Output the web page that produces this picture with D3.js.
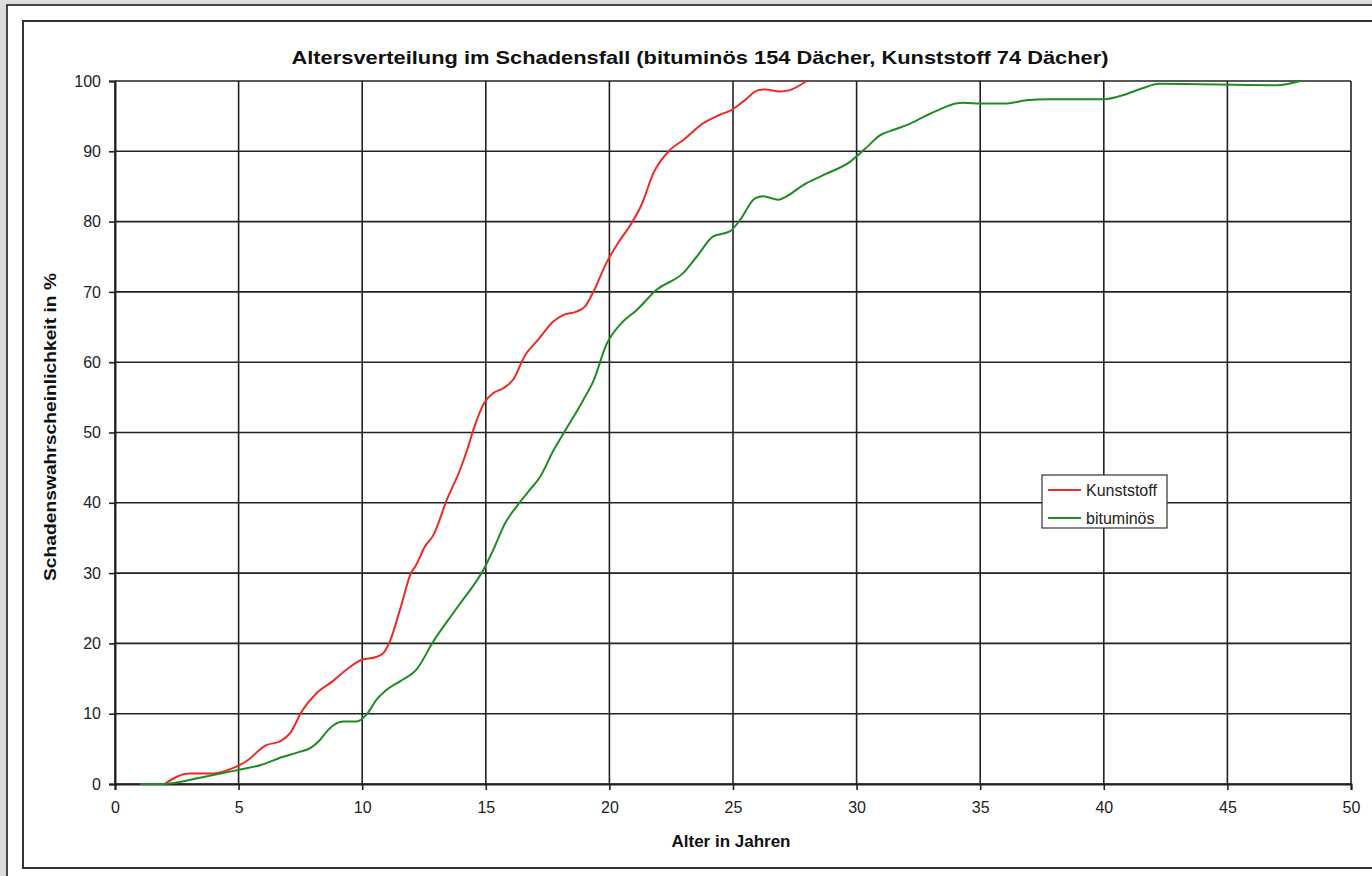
<!DOCTYPE html>
<html>
<head>
<meta charset="utf-8">
<script src="https://cdn.jsdelivr.net/npm/d3@7"></script>
<style>
  html, body { margin: 0; padding: 0; background: #dcdcdc; }
  svg { display: block; }
  text { font-family: "Liberation Sans", Arial, sans-serif; }
</style>
</head>
<body>
<svg id="chart" width="1372" height="876"></svg>
<script>
// ---- data ----
const title = "Altersverteilung im Schadensfall (bituminös 154 Dächer, Kunststoff 74 Dächer)";
const xTitle = "Alter in Jahren";
const yTitle = "Schadenswahrscheinlichkeit in %";
const seriesNames = ["Kunststoff", "bituminös"];
const xTicks = [0, 5, 10, 15, 20, 25, 30, 35, 40, 45, 50];
const yTicks = [0, 10, 20, 30, 40, 50, 60, 70, 80, 90, 100];

const kunststoffAge = [2.0, 3.0, 4.0, 4.8, 5.3, 6.1, 6.7, 7.1, 7.55, 8.15, 8.8, 9.45, 10.0, 10.5, 10.85, 11.12, 11.53, 12.0, 12.14, 12.54, 12.88, 13.42, 13.96, 14.29, 14.5, 14.97, 15.3, 15.71, 16.1, 16.59, 17.12, 17.73, 18.13, 18.67, 19.01, 19.35, 19.89, 20.36, 20.9, 21.3, 21.78, 22.45, 22.99, 23.8, 24.47, 24.95, 25.42, 26.02, 26.3, 26.9, 27.3, 27.97];
const kunststoffPct = [0, 1.5, 1.5, 2.3, 3.2, 5.5, 6.1, 7.3, 10.3, 12.9, 14.6, 16.5, 17.7, 18.0, 18.6, 20.3, 24.8, 30.2, 30.9, 33.8, 35.4, 40.4, 44.7, 48.0, 50.4, 54.4, 55.6, 56.3, 57.5, 61.0, 63.2, 65.8, 66.7, 67.2, 67.9, 70.0, 74.2, 77.0, 79.8, 82.4, 86.9, 90.2, 91.6, 94.0, 95.2, 95.9, 97.1, 98.7, 98.8, 98.5, 98.7, 100];

const bitumAge = [1.0, 2.0, 2.3, 3.44, 4.85, 5.9, 6.74, 7.4, 7.9, 8.3, 8.6, 8.85, 9.24, 9.78, 10.18, 10.58, 10.99, 11.53, 12.2, 12.88, 13.82, 14.97, 15.3, 15.78, 16.25, 16.72, 17.2, 17.73, 18.2, 18.94, 19.35, 19.89, 20.5, 21.1, 21.91, 22.99, 23.53, 24.2, 24.87, 25.28, 25.89, 26.22, 26.83, 27.17, 27.84, 28.65, 29.73, 30.45, 30.91, 31.53, 32.07, 32.77, 33.39, 34.01, 34.32, 35.02, 36.02, 36.95, 37.72, 40.0, 40.8, 41.5, 42.27, 47.0, 47.95];
const bitumPct = [0, 0, 0.1, 0.9, 1.9, 2.7, 3.8, 4.5, 5.1, 6.3, 7.6, 8.4, 8.9, 8.9, 9.9, 12.0, 13.4, 14.6, 16.3, 20.3, 25.0, 30.9, 33.3, 37.1, 39.5, 41.6, 43.7, 47.4, 50.2, 54.6, 57.3, 62.6, 65.6, 67.4, 70.3, 72.7, 75.0, 77.9, 78.6, 80.2, 83.3, 83.6, 83.1, 83.6, 85.2, 86.6, 88.5, 90.7, 92.2, 93.1, 93.8, 95.0, 96.0, 96.8, 96.9, 96.8, 96.8, 97.3, 97.4, 97.4, 98.0, 98.9, 99.6, 99.4, 100];

const seriesColors = ["#ee2a24", "#1f8c22"];

// ---- layout ----
const svg = d3.select("#chart");
const plot = { left: 115, right: 1351, top: 81, bottom: 784 };

// page + chart frame
svg.append("rect").attr("x", 7).attr("y", 5).attr("width", 1400).attr("height", 900)
  .attr("fill", "#fff").attr("stroke", "#111").attr("stroke-width", 1.5);
svg.append("rect").attr("x", 23).attr("y", 21).attr("width", 1400).attr("height", 847)
  .attr("fill", "#fff").attr("stroke", "#333").attr("stroke-width", 2);

const x = d3.scaleLinear().domain([0, 50]).range([plot.left, plot.right]);
const y = d3.scaleLinear().domain([0, 100]).range([plot.bottom, plot.top]);

// gridlines
const grid = svg.append("g").attr("stroke", "#222").attr("stroke-width", 1.6);
grid.selectAll("line.v").data(xTicks).join("line")
  .attr("x1", d => x(d)).attr("x2", d => x(d)).attr("y1", plot.top).attr("y2", plot.bottom);
grid.selectAll("line.h").data(yTicks).join("line")
  .attr("y1", d => y(d)).attr("y2", d => y(d)).attr("x1", plot.left).attr("x2", plot.right);

// axes
const xAxis = svg.append("g").attr("transform", `translate(0,${plot.bottom})`)
  .call(d3.axisBottom(x).tickValues(xTicks).tickSize(6).tickPadding(12));
const yAxis = svg.append("g").attr("transform", `translate(${plot.left},0)`)
  .call(d3.axisLeft(y).tickValues(yTicks).tickSize(6).tickPadding(8));
[xAxis, yAxis].forEach(a => {
  a.select(".domain").attr("stroke", "#222").attr("stroke-width", 2);
  a.selectAll(".tick line").attr("stroke", "#222").attr("stroke-width", 1.6);
  a.selectAll(".tick text").attr("font-size", 16).attr("fill", "#222")
    .attr("font-family", "'Liberation Sans', Arial, sans-serif");
});

// lines
const line = d3.line().x(d => x(d[0])).y(d => y(d[1])).curve(d3.curveMonotoneX);
const series = [
  d3.zip(kunststoffAge, kunststoffPct),
  d3.zip(bitumAge, bitumPct)
];
svg.append("g").selectAll("path").data(series).join("path")
  .attr("d", line).attr("fill", "none")
  .attr("stroke", (d, i) => seriesColors[i]).attr("stroke-width", 2);

// title
svg.append("text").attr("x", 700).attr("y", 64).attr("text-anchor", "middle")
  .attr("font-size", 19).attr("font-weight", "bold").attr("fill", "#111")
  .attr("textLength", 817).attr("lengthAdjust", "spacingAndGlyphs").text(title);

// axis titles
svg.append("text").attr("x", 731).attr("y", 847).attr("text-anchor", "middle")
  .attr("font-size", 17).attr("font-weight", "bold").attr("fill", "#111").text(xTitle);
svg.append("text").attr("transform", "translate(56,427) rotate(-90)").attr("text-anchor", "middle")
  .attr("font-size", 17).attr("font-weight", "bold").attr("fill", "#111")
  .attr("textLength", 308).attr("lengthAdjust", "spacingAndGlyphs").text(yTitle);

// legend
const lg = svg.append("g").attr("transform", "translate(1042,475)");
lg.append("rect").attr("width", 125).attr("height", 53).attr("fill", "#fff")
  .attr("stroke", "#333").attr("stroke-width", 1.2);
seriesNames.forEach((name, i) => {
  const yy = 15 + i * 28;
  lg.append("line").attr("x1", 6).attr("x2", 39).attr("y1", yy).attr("y2", yy)
    .attr("stroke", seriesColors[i]).attr("stroke-width", 2);
  lg.append("text").attr("x", 44).attr("y", yy).attr("dy", "0.36em")
    .attr("font-size", 16).attr("fill", "#222").text(name);
});
</script>
</body>
</html>
